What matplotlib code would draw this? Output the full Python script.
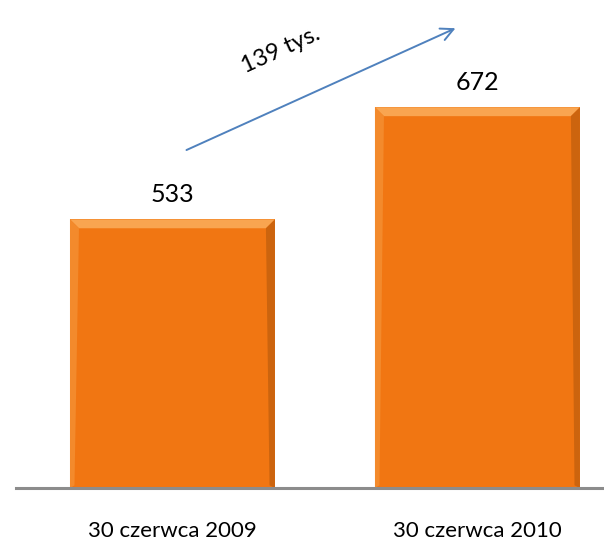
import matplotlib

matplotlib.use("Agg")
import matplotlib.pyplot as plt
from matplotlib.patches import Polygon

categories = ["30 czerwca 2009", "30 czerwca 2010"]
values = [533, 672]
diff_label = "139 tys."

plt.rcParams["font.family"] = ["Lato", "DejaVu Sans"]

fig = plt.figure(figsize=(6.04, 5.46), dpi=100)
ax = fig.add_axes([16 / 604, 58 / 546, 588 / 604, 488 / 546])

x = list(range(len(categories)))
width = 0.672
ax.bar(x, values, width=width, bottom=0, color="#F17612", zorder=2)

# bevel look: light top edge, darker right edge, slightly lighter left edge
bx, by = 9 / 305, 11.0
for xi, v in zip(x, values):
    l, r = xi - width / 2, xi + width / 2
    ax.add_patch(Polygon([(l, v), (r, v), (r - bx, v - by), (l + bx, v - by)],
                         closed=True, color="#F9A550", lw=0, zorder=3))
    ax.add_patch(Polygon([(r, v), (r, 200), (r - bx * 0.6, 200 + by * 0.3), (r - bx, v - by)],
                         closed=True, color="#CC640E", lw=0, zorder=3))
    ax.add_patch(Polygon([(l, v), (l, 200), (l + bx * 0.5, 200 + by * 0.3), (l + bx, v - by)],
                         closed=True, color="#F38A2C", lw=0, zorder=3))
    ax.text(xi, v + 22, f"{v}", ha="center", va="baseline", fontsize=18, color="black")

ax.set_xlim(-0.513, 1.415)
ax.set_ylim(200, 805)

ax.annotate("", xy=(0.928, 770), xytext=(0.046, 619),
            arrowprops=dict(arrowstyle="->,head_length=0.9,head_width=0.45",
                            color="#4F81BD", lw=1.4, shrinkA=0, shrinkB=0))
ax.text(0.355, 743, diff_label, rotation=24.5, ha="center", va="center",
        fontsize=17, color="black", rotation_mode="anchor")

ax.set_xticks(x)
ax.set_xticklabels(categories, fontsize=16)
ax.tick_params(axis="x", length=0, pad=24)
ax.set_yticks([])
for s in ["top", "left", "right"]:
    ax.spines[s].set_visible(False)
ax.spines["bottom"].set_color("#8C8C8C")
ax.spines["bottom"].set_linewidth(2.2)
ax.spines["bottom"].set_zorder(4)

fig.savefig("out.png", dpi=100)
